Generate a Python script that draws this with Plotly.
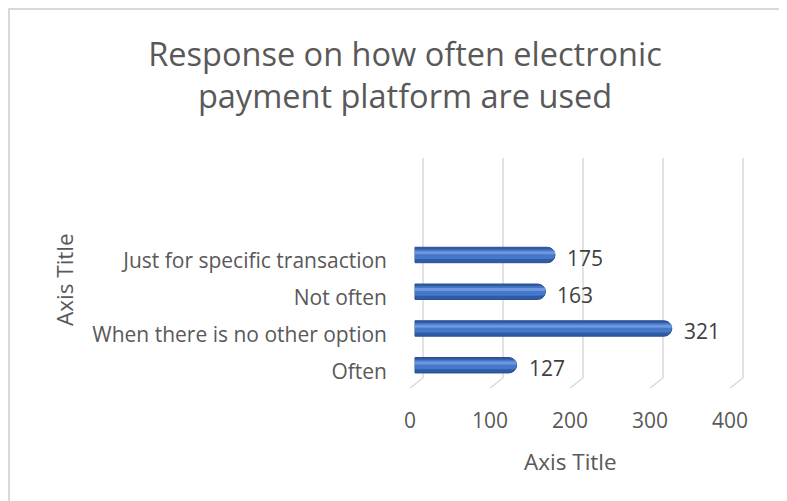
import plotly.graph_objects as go

categories = ["Often", "When there is no other option", "Not often", "Just for specific transaction"]
values = [127, 321, 163, 175]
x_ticks = [0, 100, 200, 300, 400]

OFF = 8  # default page body margin
W, H = 787 - OFF, 501 - OFF
# value 0 -> page x 415, value 400 -> page x 735 (0.8 px/unit); padded range
XMIN, XMAX = -20, 420
PLOT_L, PLOT_R = 415 - 20 * 0.8, 735 + 20 * 0.8
ML, MR = PLOT_L - OFF, 787 - PLOT_R
MT, MB = 158 - OFF, 501 - 388
PW, PH = W - ML - MR, H - MT - MB

def px_to_paper_x(page_px):
    return (page_px - OFF - ML) / PW

def px_to_paper_y(page_py):
    return (H - MB - (page_py - OFF)) / PH

FONT = "Open Sans"
GREY = "#595959"
GRID = "#D9D9D9"

fig = go.Figure()
fig.add_trace(go.Bar(
    x=values, y=categories, orientation="h", width=0.42,
    marker=dict(color="#2F5CA6", line=dict(color="#2A4E8C", width=1), cornerradius=8),
    hoverinfo="skip", showlegend=False,
))
fig.add_trace(go.Bar(
    x=values, y=categories, orientation="h", width=0.26, offset=-0.11,
    marker=dict(color="#4677C8", line=dict(width=0), cornerradius=5),
    hoverinfo="skip", showlegend=False,
))
fig.add_trace(go.Bar(
    x=values, y=categories, orientation="h", width=0.08, offset=0.02,
    marker=dict(color="#6D98DE", line=dict(width=0), cornerradius=2),
    hoverinfo="skip", showlegend=False,
))

# 3D-style gridlines anchored at the tick values (back wall + floor foot)
for t in x_ticks:
    fig.add_shape(type="line", xref="x", yref="paper", layer="below",
                  xsizemode="pixel", xanchor=t, x0=8, x1=8,
                  ysizemode="pixel", yanchor=0, y0=10, y1=PH,
                  line=dict(color=GRID, width=1.5))
    fig.add_shape(type="line", xref="x", yref="paper", layer="below",
                  xsizemode="pixel", xanchor=t, x0=8, x1=-5,
                  ysizemode="pixel", yanchor=0, y0=10, y1=0,
                  line=dict(color=GRID, width=1.5))

for c, v in zip(categories, values):
    fig.add_annotation(x=v, y=c, text=str(v), showarrow=False, xanchor="left",
                       xshift=10, yshift=-3, font=dict(family=FONT, size=21, color="#404040"))

fig.add_annotation(text="Axis Title", xref="paper", yref="paper",
                   x=px_to_paper_x(570), y=px_to_paper_y(461), xanchor="center", yanchor="middle",
                   showarrow=False, font=dict(family=FONT, size=22.5, color=GREY))
fig.add_annotation(text="Axis Title", xref="paper", yref="paper", textangle=-90,
                   x=px_to_paper_x(64), y=px_to_paper_y(280), xanchor="center", yanchor="middle",
                   showarrow=False, font=dict(family=FONT, size=22.5, color=GREY))

# chart border (only left/top edges are visible)
fig.add_shape(type="line", xref="paper", yref="paper",
              x0=px_to_paper_x(OFF + 1), x1=px_to_paper_x(OFF + 1),
              y0=px_to_paper_y(600), y1=px_to_paper_y(OFF + 1),
              line=dict(color=GRID, width=2), layer="below")
fig.add_shape(type="line", xref="paper", yref="paper",
              x0=px_to_paper_x(OFF), x1=px_to_paper_x(900),
              y0=px_to_paper_y(OFF + 1), y1=px_to_paper_y(OFF + 1),
              line=dict(color=GRID, width=2), layer="below")

fig.update_layout(
    width=W, height=H,
    margin=dict(l=ML, r=MR, t=MT, b=MB, autoexpand=False),
    paper_bgcolor="white", plot_bgcolor="white",
    barmode="overlay",
    title=dict(text="Response on how often electronic<br>payment platform are used",
               x=(405 - OFF) / W, xref="container", xanchor="center",
               y=1 - (66 - OFF) / H, yref="container", yanchor="middle",
               font=dict(family=FONT, size=32.5, color=GREY)),
    font=dict(family=FONT, color=GREY),
)
fig.update_xaxes(range=[XMIN, XMAX], tickvals=x_ticks, showgrid=False,
                 zeroline=False, showline=False, ticks="",
                 tickfont=dict(family=FONT, size=21, color=GREY),
                 ticklabelstandoff=18, ticklabelshift=-5)
fig.update_yaxes(type="category", categoryorder="array", categoryarray=categories,
                 range=[-0.62, 5.64], showgrid=False, zeroline=False, showline=False,
                 ticks="", tickfont=dict(family=FONT, size=21, color=GREY),
                 ticklabelstandoff=11, ticklabelshift=6)

fig.write_html("out.html")
